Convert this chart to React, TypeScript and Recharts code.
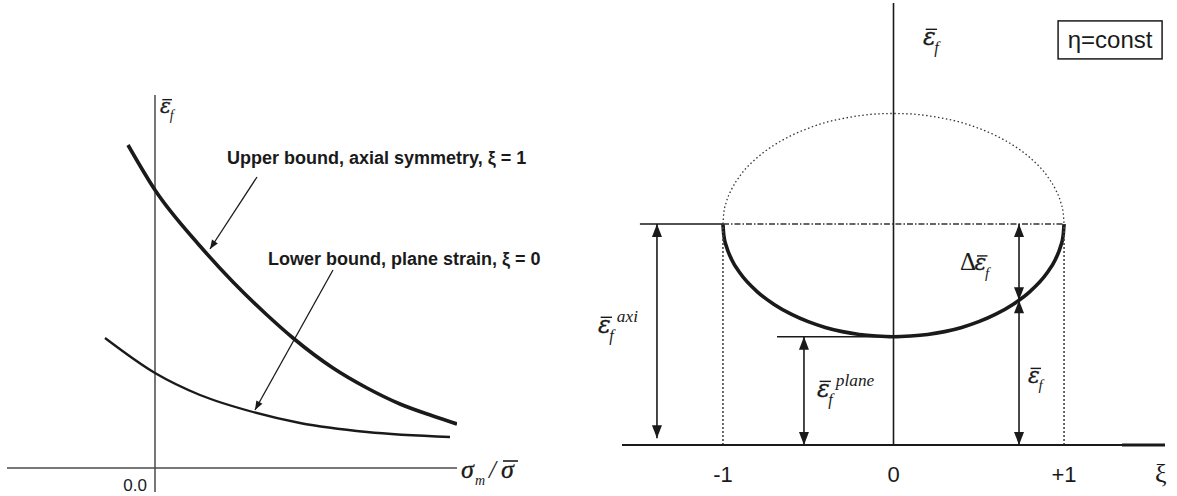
import React from 'react';
import { ComposedChart, Line, XAxis, YAxis, ReferenceLine, ReferenceDot } from 'recharts';

const INK = '#1a1a1a';
const GREY = '#4a4a4a';
const SERIF = '"Liberation Serif", "Times New Roman", serif';
const GREEK = '"DejaVu Serif", "Liberation Serif", serif';
const SANS = '"Liberation Sans", Arial, Helvetica, sans-serif';

// ---- Left panel: failure strain vs. stress triaxiality ----
const upperX = [-0.27, 0, 0.45, 0.78, 1.12, 1.38, 1.78, 2.12, 2.45, 2.78, 3.02];
const upperY = [3.23, 2.78, 2.22, 1.86, 1.53, 1.3, 1.0, 0.8, 0.64, 0.52, 0.44];
const lowerX = [-0.5, 0, 0.45, 0.98, 1.45, 2.12, 2.95];
const lowerY = [1.3, 0.95, 0.73, 0.56, 0.45, 0.36, 0.31];
const upperLabel = 'Upper bound, axial symmetry, \u03BE = 1';
const lowerLabel = 'Lower bound, plane strain, \u03BE = 0';
const originLabel = '0.0';

// ---- Right panel: failure strain vs. Lode parameter xi at constant eta ----
const xiTicks = [-1, 0, 1];
const arcXi = [
  -1, -0.995, -0.98, -0.95, -0.9, -0.8, -0.7, -0.6, -0.5, -0.4, -0.3, -0.2, -0.1, 0,
  0.1, 0.2, 0.3, 0.4, 0.5, 0.6, 0.7, 0.8, 0.9, 0.95, 0.98, 0.995, 1,
];
const lowerArc = [
  1.0, 0.949, 0.899, 0.841, 0.778, 0.694, 0.636, 0.592, 0.558, 0.532, 0.513, 0.5, 0.493, 0.49,
  0.493, 0.5, 0.513, 0.532, 0.558, 0.592, 0.636, 0.694, 0.778, 0.841, 0.899, 0.949, 1.0,
];
const upperArc = [
  1.0, 1.05, 1.1, 1.156, 1.218, 1.3, 1.357, 1.4, 1.433, 1.459, 1.477, 1.49, 1.498, 1.5,
  1.498, 1.49, 1.477, 1.459, 1.433, 1.4, 1.357, 1.3, 1.218, 1.156, 1.1, 1.05, 1.0,
];
const epsAxi = 1.0;
const epsPlane = 0.49;
const xiSample = 0.736;
const epsAtSample = 0.655;
const etaNote = '\u03B7=const';

const upperBound = upperX.map((x, i) => ({ x, y: upperY[i] }));
const lowerBound = lowerX.map((x, i) => ({ x, y: lowerY[i] }));
const solidArc = arcXi.map((x, i) => ({ x, y: lowerArc[i] }));
const dottedArc = arcXi.map((x, i) => ({ x, y: upperArc[i] }));

type Heads = 'start' | 'end' | 'both';

// Segment with filled triangular arrowheads, drawn from the reference-line pixel ends
function arrowShape(heads: Heads, len: number, half: number, sw: number) {
  return (p: any) => {
    const { x1, y1, x2, y2 } = p;
    const dx = x2 - x1;
    const dy = y2 - y1;
    const L = Math.hypot(dx, dy) || 1;
    const ux = dx / L;
    const uy = dy / L;
    const head = (tx: number, ty: number, ddx: number, ddy: number) => {
      const bx = tx - ddx * len;
      const by = ty - ddy * len;
      const px = -ddy * half;
      const py = ddx * half;
      return `${tx},${ty} ${bx + px},${by + py} ${bx - px},${by - py}`;
    };
    const showStart = heads === 'start' || heads === 'both';
    const showEnd = heads === 'end' || heads === 'both';
    return (
      <g>
        <line x1={x1} y1={y1} x2={x2} y2={y2} stroke={INK} strokeWidth={sw} />
        {showStart && <polygon points={head(x1, y1, -ux, -uy)} fill={INK} />}
        {showEnd && <polygon points={head(x2, y2, ux, uy)} fill={INK} />}
      </g>
    );
  };
}

// Italic epsilon with a bar, subscript f and optional superscript / delta prefix
function EpsBar({ x, y, size, sup, delta }: { x: number; y: number; size: number; sup?: string; delta?: boolean }) {
  const s = size;
  const ex = delta ? x + s * 0.58 : x;
  return (
    <g fill={INK}>
      {delta && (
        <text x={x} y={y} fontFamily={SERIF} fontSize={s}>
          {'\u0394'}
        </text>
      )}
      <text x={ex} y={y} fontFamily={GREEK} fontStyle="italic" fontSize={s * 0.88} stroke={INK} strokeWidth={0.3}>
        {'\u03B5'}
      </text>
      <line x1={ex + s * 0.1} x2={ex + s * 0.52} y1={y - s * 0.58} y2={y - s * 0.58} stroke={INK} strokeWidth={1.4} />
      <text x={ex + s * 0.42} y={y + s * 0.3} fontFamily={SERIF} fontStyle="italic" fontSize={s * 0.6}>
        f
      </text>
      {sup && (
        <text x={ex + s * 0.7} y={y - s * 0.4} fontFamily={SERIF} fontStyle="italic" fontSize={s * 0.64}>
          {sup}
        </text>
      )}
    </g>
  );
}

function SigmaRatio({ x, y }: { x: number; y: number }) {
  return (
    <g fill={INK} fontFamily={SERIF} fontStyle="italic">
      <text x={x} y={y} fontSize={26} stroke={INK} strokeWidth={0.3}>
        {'\u03C3'}
      </text>
      <text x={x + 14} y={y + 7} fontSize={14}>
        m
      </text>
      <text x={x + 28} y={y} fontSize={25}>
        /
      </text>
      <text x={x + 40} y={y} fontSize={26} stroke={INK} strokeWidth={0.3}>
        {'\u03C3'}
      </text>
      <line x1={x + 42} x2={x + 57} y1={y - 17} y2={y - 17} stroke={INK} strokeWidth={1.6} />
    </g>
  );
}

const textAt = (content: string, opts: { size: number; weight?: string; family?: string; anchor?: string; italic?: boolean }) =>
  (p: any) => (
    <text
      x={p.cx}
      y={p.cy}
      fontFamily={opts.family || SANS}
      fontSize={opts.size}
      fontWeight={opts.weight || 'normal'}
      fontStyle={opts.italic ? 'italic' : 'normal'}
      textAnchor={(opts.anchor as any) || 'start'}
      fill={INK}
    >
      {content}
    </text>
  );

function LeftPanel() {
  return (
    <ComposedChart width={600} height={496} margin={{ top: 95, right: 143, bottom: 4, left: 7 }}>
      <XAxis type="number" dataKey="x" domain={[-1.48, 3.02]} allowDataOverflow hide />
      <YAxis type="number" domain={[-0.24, 3.73]} allowDataOverflow hide />
      <ReferenceLine y={0} stroke={GREY} strokeWidth={1.5} />
      <ReferenceLine x={0} stroke={GREY} strokeWidth={1.5} />
      <Line data={upperBound} dataKey="y" type="monotone" stroke={INK} strokeWidth={3.6} dot={false} isAnimationActive={false} />
      <Line data={lowerBound} dataKey="y" type="monotone" stroke={INK} strokeWidth={2.3} dot={false} isAnimationActive={false} />
      <ReferenceLine segment={[{ x: 1.02, y: 2.91 }, { x: 0.55, y: 2.19 }]} ifOverflow="visible" shape={arrowShape('end', 9, 3.5, 1.3)} />
      <ReferenceLine segment={[{ x: 1.78, y: 1.98 }, { x: 1.0, y: 0.58 }]} ifOverflow="visible" shape={arrowShape('end', 9, 3.5, 1.3)} />
      <ReferenceDot x={0.72} y={3.04} ifOverflow="visible" shape={textAt(upperLabel, { size: 18, weight: 'bold' })} />
      <ReferenceDot x={1.13} y={2.03} ifOverflow="visible" shape={textAt(lowerLabel, { size: 18, weight: 'bold' })} />
      <ReferenceDot x={-0.08} y={-0.23} ifOverflow="visible" shape={textAt(originLabel, { size: 17, anchor: 'end' })} />
      <ReferenceDot x={0.05} y={3.55} ifOverflow="visible" shape={(p: any) => <EpsBar x={p.cx} y={p.cy} size={23} />} />
      <ReferenceDot x={3.06} y={-0.1} ifOverflow="visible" shape={(p: any) => <SigmaRatio x={p.cx} y={p.cy} />} />
    </ComposedChart>
  );
}

function RightPanel() {
  return (
    <ComposedChart width={617} height={496} margin={{ top: 3, right: 12, bottom: 21, left: 62 }}>
      <XAxis
        type="number"
        dataKey="x"
        domain={[-1.592, 1.592]}
        allowDataOverflow
        ticks={xiTicks}
        interval={0}
        tickFormatter={(v: number) => (v > 0 ? `+${v}` : `${v}`)}
        axisLine={{ stroke: INK, strokeWidth: 2 }}
        tickLine={false}
        tick={{ fontFamily: SANS, fontSize: 22, fill: INK }}
        tickMargin={15}
        height={30}
      />
      <YAxis type="number" domain={[0, 2]} allowDataOverflow hide />
      <ReferenceLine segment={[{ x: 1.34, y: 0 }, { x: 1.592, y: 0 }]} ifOverflow="visible" stroke={INK} strokeWidth={3} />
      <ReferenceLine x={0} stroke={INK} strokeWidth={1.6} />
      <Line data={dottedArc} dataKey="y" type="monotone" stroke="#333" strokeWidth={1.3} strokeDasharray="1.5 2.5" dot={false} isAnimationActive={false} />
      <Line data={solidArc} dataKey="y" type="monotone" stroke={INK} strokeWidth={3.6} dot={false} isAnimationActive={false} />
      <ReferenceLine segment={[{ x: -1, y: epsAxi }, { x: 1, y: epsAxi }]} stroke="#333" strokeWidth={1.4} strokeDasharray="6 2 1.5 2" />
      <ReferenceLine segment={[{ x: -1.487, y: epsAxi }, { x: -1, y: epsAxi }]} stroke={INK} strokeWidth={1.6} />
      <ReferenceLine segment={[{ x: -1, y: 0 }, { x: -1, y: epsAxi }]} stroke="#444" strokeWidth={1.6} strokeDasharray="2 2" />
      <ReferenceLine segment={[{ x: 1, y: 0 }, { x: 1, y: epsAxi }]} stroke="#444" strokeWidth={1.6} strokeDasharray="2 2" />
      <ReferenceLine segment={[{ x: -0.683, y: epsPlane }, { x: 0, y: epsPlane }]} stroke={INK} strokeWidth={1.5} />
      <ReferenceLine segment={[{ x: -1.387, y: epsAxi }, { x: -1.387, y: 0.03 }]} shape={arrowShape('both', 13, 5, 1.6)} />
      <ReferenceLine segment={[{ x: -0.525, y: epsPlane }, { x: -0.525, y: 0 }]} shape={arrowShape('both', 13, 5, 1.6)} />
      <ReferenceLine segment={[{ x: xiSample, y: epsAxi }, { x: xiSample, y: epsAtSample }]} shape={arrowShape('both', 13, 5, 1.6)} />
      <ReferenceLine segment={[{ x: xiSample, y: epsAtSample }, { x: xiSample, y: 0 }]} shape={arrowShape('both', 13, 5, 1.6)} />
      <ReferenceDot x={0.173} y={1.81} ifOverflow="visible" shape={(p: any) => <EpsBar x={p.cx} y={p.cy} size={27} />} />
      <ReferenceDot x={0.39} y={0.79} ifOverflow="visible" shape={(p: any) => <EpsBar x={p.cx} y={p.cy} size={25} delta />} />
      <ReferenceDot x={-1.733} y={0.507} ifOverflow="visible" shape={(p: any) => <EpsBar x={p.cx} y={p.cy} size={27} sup="axi" />} />
      <ReferenceDot x={-0.449} y={0.217} ifOverflow="visible" shape={(p: any) => <EpsBar x={p.cx} y={p.cy} size={27} sup="plane" />} />
      <ReferenceDot x={0.789} y={0.281} ifOverflow="visible" shape={(p: any) => <EpsBar x={p.cx} y={p.cy} size={25} />} />
      <ReferenceDot x={1.534} y={-0.167} ifOverflow="visible" shape={textAt('\u03BE', { size: 26, family: SERIF })} />
      <ReferenceDot
        x={1.27}
        y={1.833}
        ifOverflow="visible"
        shape={(p: any) => (
          <g>
            <rect x={p.cx - 52} y={p.cy - 19} width={104} height={38} fill="none" stroke={INK} strokeWidth={1.5} />
            <text x={p.cx} y={p.cy + 8} textAnchor="middle" fontFamily={SANS} fontSize={24} fill={INK}>
              {etaNote}
            </text>
          </g>
        )}
      />
    </ComposedChart>
  );
}

export default function App() {
  return (
    <div style={{ position: 'absolute', left: 0, top: 0, width: 1177, height: 496, background: '#fff', overflow: 'hidden' }}>
      <div style={{ position: 'absolute', left: 0, top: 0 }}>
        <LeftPanel />
      </div>
      <div style={{ position: 'absolute', left: 560, top: 0 }}>
        <RightPanel />
      </div>
    </div>
  );
}
